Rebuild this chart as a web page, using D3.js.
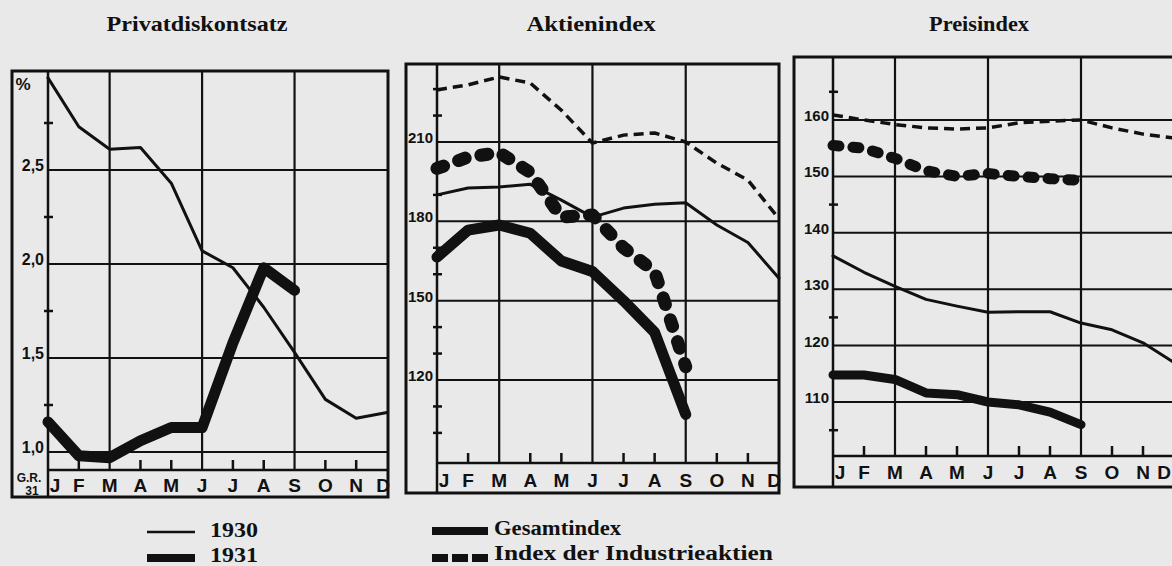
<!DOCTYPE html>
<html lang="de">
<head>
<meta charset="UTF-8">
<title>Privatdiskontsatz, Aktienindex, Preisindex 1930/1931</title>
<script src="https://d3js.org/d3.v7.min.js"></script>
<style>
  html, body { margin: 0; padding: 0; background: #e9e9e9; }
  svg { display: block; }
</style>
</head>
<body>
<script>
// Monate (Jan..Dez)
const months = ["J", "F", "M", "A", "M", "J", "J", "A", "S", "O", "N", "D"];

// Privatdiskontsatz in %
const diskont1930 = [2.99, 2.73, 2.61, 2.62, 2.43, 2.07, 1.98, 1.77, 1.53, 1.28, 1.18, 1.21];
const diskont1931 = [1.16, 0.98, 0.97, 1.06, 1.13, 1.13, 1.58, 1.98, 1.86];
const diskontTicks = [1.0, 1.5, 2.0, 2.5];
const diskontTickLabels = ["1,0", "1,5", "2,0", "2,5"];
const diskontMinor = [1.25, 1.75, 2.25, 2.75];

// Aktienindex
const aktienGesamt1930 = [190, 192.6, 193, 194, 188, 181.6, 185, 186.5, 187, 178.6, 172, 158.5];
const aktienGesamt1931 = [166.5, 176.7, 178.6, 175.5, 165, 161, 150, 138, 107];
const aktienIndustrie1930 = [229.7, 231.6, 234.6, 232.3, 222, 209.6, 212.6, 213.4, 210, 202, 195.6, 181];
const aktienIndustrie1931 = [200, 204.3, 206, 198.5, 181.6, 182.4, 170, 161, 125];
const aktienTicks = [120, 150, 180, 210];
const aktienMinor = [100, 110, 130, 140, 160, 170, 190, 200, 220, 230];

// Preisindex
const preisGesamt1930 = [135.9, 133, 130.5, 128.2, 127, 125.9, 126, 126, 124, 122.8, 120.5, 117];
const preisGesamt1931 = [114.8, 114.8, 114, 111.6, 111.3, 110, 109.5, 108.2, 106];
const preisIndustrie1930 = [160.9, 160, 159.2, 158.6, 158.4, 158.6, 159.5, 159.8, 160, 158.6, 157.5, 156.8];
const preisIndustrie1931 = [155.5, 155, 153.2, 151, 150, 150.5, 150, 149.6, 149.3];
const preisTicks = [110, 120, 130, 140, 150, 160];
const preisMinor = [105, 125, 145, 165];

// months with a full vertical grid line / with a small tick at the bottom
const gridMonths = [2, 5, 8];
const tickMonths = [1, 3, 4, 6, 7, 9, 10];

const ink = "#111";
const W = 1172, H = 566;

const svg = d3.select("body").append("svg")
    .attr("width", W)
    .attr("height", H);

svg.append("rect").attr("width", W).attr("height", H).attr("fill", "#e9e9e9");

// line styles of the four kinds of curve
const styles = {
    thin:      { width: 3,   dash: null,   cap: "round" },
    thick:     { width: 11,  dash: null,   cap: "round" },
    thinDash:  { width: 3.5, dash: "10,6", cap: "butt" },
    thickDash: { width: 13,  dash: "7,16", cap: "round" }
};

const panels = [
    {
        title: "Privatdiskontsatz", titleX: 197, titleW: 181,
        frame: [12, 71, 388, 497], x0: 48, x1: 387, base: 470,
        yDom: [1.0, 2.5], yRng: [452, 170],
        ticks: diskontTicks, tickLabels: diskontTickLabels, minor: diskontMinor,
        labelY: 492, labelSize: 16, lastShift: -4,
        series: [
            { values: diskont1930, style: "thin" },
            { values: diskont1931, style: "thick" }
        ]
    },
    {
        title: "Aktienindex", titleX: 591, titleW: 129,
        frame: [406, 64, 779, 493], x0: 437, x1: 779, base: 463,
        yDom: [120, 210], yRng: [380, 142],
        ticks: aktienTicks, tickLabels: aktienTicks.map(String), minor: aktienMinor,
        labelY: 487, labelSize: 15, lastShift: -5,
        series: [
            { values: aktienIndustrie1930, style: "thinDash" },
            { values: aktienGesamt1930, style: "thin" },
            { values: aktienIndustrie1931, style: "thickDash" },
            { values: aktienGesamt1931, style: "thick" }
        ]
    },
    {
        title: "Preisindex", titleX: 979, titleW: 100,
        frame: [794, 57, 1190, 487], x0: 833, x1: 1174, base: 456,
        yDom: [110, 160], yRng: [402, 120],
        ticks: preisTicks, tickLabels: preisTicks.map(String), minor: preisMinor,
        labelY: 479, labelSize: 15, lastShift: -10,
        series: [
            { values: preisIndustrie1930, style: "thinDash" },
            { values: preisGesamt1930, style: "thin" },
            { values: preisIndustrie1931, style: "thickDash", width: 11, dash: "6,14" },
            { values: preisGesamt1931, style: "thick", width: 9 }
        ]
    }
];

panels.forEach(p => {
    const g = svg.append("g");
    const [fx0, fy0, fx1, fy1] = p.frame;
    const x = d3.scaleLinear().domain([0, 11]).range([p.x0, p.x1]);
    const y = d3.scaleLinear().domain(p.yDom).range(p.yRng);
    const right = Math.min(fx1, W + 20);

    // title
    svg.append("text")
        .attr("x", p.titleX).attr("y", 31)
        .attr("text-anchor", "middle")
        .attr("textLength", p.titleW)
        .attr("lengthAdjust", "spacingAndGlyphs")
        .style("font-family", "'Liberation Serif', serif")
        .style("font-weight", "bold")
        .style("font-size", "21px")
        .attr("fill", ink)
        .text(p.title);

    // horizontal grid lines
    g.selectAll(".hgrid").data(p.ticks).join("line")
        .attr("x1", p.x0).attr("x2", right)
        .attr("y1", d => y(d)).attr("y2", d => y(d))
        .attr("stroke", ink).attr("stroke-width", 2);

    // vertical grid lines (March, June, September)
    g.selectAll(".vgrid").data(gridMonths).join("line")
        .attr("x1", d => x(d)).attr("x2", d => x(d))
        .attr("y1", fy0).attr("y2", p.base)
        .attr("stroke", ink).attr("stroke-width", 2.2);

    // x baseline and inner y axis
    g.append("line").attr("x1", p.x0).attr("x2", right)
        .attr("y1", p.base).attr("y2", p.base)
        .attr("stroke", ink).attr("stroke-width", 2.5);
    g.append("line").attr("x1", p.x0).attr("x2", p.x0)
        .attr("y1", fy0).attr("y2", fy1)
        .attr("stroke", ink).attr("stroke-width", 2.5);

    // outer frame
    g.append("rect")
        .attr("x", fx0).attr("y", fy0)
        .attr("width", fx1 - fx0).attr("height", fy1 - fy0)
        .attr("fill", "none").attr("stroke", ink).attr("stroke-width", 3);

    // minor ticks on y axis
    g.selectAll(".minor").data(p.minor).join("line")
        .attr("x1", p.x0 - 4).attr("x2", p.x0 + 5)
        .attr("y1", d => y(d)).attr("y2", d => y(d))
        .attr("stroke", ink).attr("stroke-width", 2.5);

    // small month ticks on x axis
    g.selectAll(".mtick").data(tickMonths).join("line")
        .attr("x1", d => x(d)).attr("x2", d => x(d))
        .attr("y1", p.base).attr("y2", p.base - 10)
        .attr("stroke", ink).attr("stroke-width", 2.5);

    // y labels
    g.selectAll(".ylab").data(p.ticks).join("text")
        .attr("x", p.x0 - 4)
        .attr("y", d => y(d) + 1)
        .attr("text-anchor", "end")
        .style("font-family", "'Liberation Sans Narrow', 'Liberation Sans', sans-serif")
        .style("font-weight", "bold")
        .style("font-size", p.labelSize + "px")
        .attr("fill", ink)
        .text((d, i) => p.tickLabels[i]);

    // month labels
    g.selectAll(".mlab").data(months).join("text")
        .attr("x", (d, i) => x(i) + (i === 0 ? 7 : i === 11 ? p.lastShift : 0))
        .attr("y", p.labelY)
        .attr("text-anchor", "middle")
        .style("font-family", "'Liberation Sans', sans-serif")
        .style("font-weight", "bold")
        .style("font-size", "19px")
        .attr("fill", ink)
        .text(d => d);

    // curves
    const line = d3.line()
        .x((d, i) => x(i))
        .y(d => y(d));
    p.series.forEach(s => {
        const st = styles[s.style];
        g.append("path")
            .attr("d", line(s.values))
            .attr("fill", "none")
            .attr("stroke", ink)
            .attr("stroke-width", s.width || st.width)
            .attr("stroke-dasharray", s.dash || st.dash)
            .attr("stroke-linecap", st.cap)
            .attr("stroke-linejoin", "round");
    });
});

// extra lettering in the first panel
const labFamily = "'Liberation Sans', sans-serif";
svg.append("text").attr("x", 23).attr("y", 90)
    .attr("text-anchor", "middle")
    .style("font-family", labFamily).style("font-weight", "bold").style("font-size", "17px")
    .attr("fill", ink).text("%");
svg.append("text").attr("x", 29).attr("y", 482)
    .attr("text-anchor", "middle")
    .style("font-family", labFamily).style("font-weight", "bold").style("font-size", "12px")
    .attr("fill", ink).text("G.R.");
svg.append("text").attr("x", 32).attr("y", 495)
    .attr("text-anchor", "middle")
    .style("font-family", labFamily).style("font-weight", "bold").style("font-size", "12px")
    .attr("fill", ink).text("31");

// legends
const legendYears = ["1930", "1931"];
const legendIndex = ["Gesamtindex", "Index der Industrieaktien"];
const legendFont = "'Liberation Serif', serif";

const ly = d3.scalePoint().domain([0, 1]).range([532, 557]);

// years: thin line and thick bar
svg.append("line").attr("x1", 147).attr("x2", 195)
    .attr("y1", ly(0)).attr("y2", ly(0))
    .attr("stroke", ink).attr("stroke-width", 2.5);
svg.append("rect").attr("x", 147).attr("y", ly(1) - 3).attr("width", 48).attr("height", 8).attr("fill", ink);
svg.selectAll(".lyear").data(legendYears).join("text")
    .attr("x", 210).attr("y", (d, i) => ly(i) + 5)
    .attr("textLength", 48).attr("lengthAdjust", "spacingAndGlyphs")
    .style("font-family", legendFont).style("font-weight", "bold").style("font-size", "20px")
    .attr("fill", ink).text(d => d);

// index: solid bar and dashed bar
svg.append("rect").attr("x", 432).attr("y", ly(0) - 5).attr("width", 56).attr("height", 8).attr("fill", ink);
svg.selectAll(".ldash").data([0, 1, 2]).join("rect")
    .attr("x", d => 432 + d * 20).attr("y", ly(1) - 3)
    .attr("width", 16).attr("height", 8).attr("fill", ink);
svg.selectAll(".lidx").data(legendIndex).join("text")
    .attr("x", 494).attr("y", (d, i) => ly(i) + 3)
    .attr("textLength", (d, i) => i === 0 ? 127 : 279)
    .attr("lengthAdjust", "spacingAndGlyphs")
    .style("font-family", legendFont).style("font-weight", "bold").style("font-size", "20px")
    .attr("fill", ink).text(d => d);
</script>
</body>
</html>
